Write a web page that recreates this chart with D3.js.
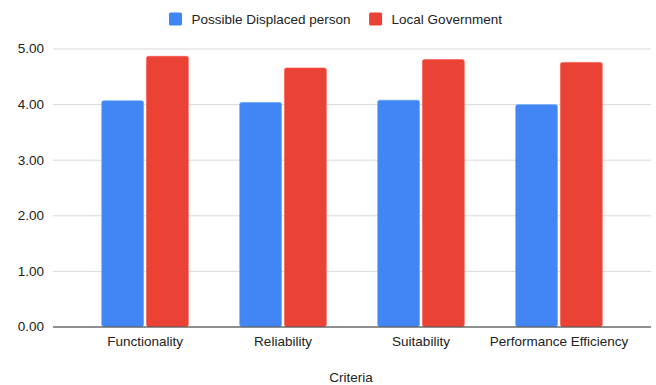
<!DOCTYPE html>
<html>
<head>
<meta charset="utf-8">
<script src="https://cdn.jsdelivr.net/npm/d3@7"></script>
<style>
  html, body { margin: 0; padding: 0; background: #fff; }
  text { font-family: "Liberation Sans", Arial, sans-serif; }
</style>
</head>
<body>
<svg id="chart" width="656" height="385"></svg>
<script>
// Mean scores by criterion for each respondent group
const categories = ["Functionality", "Reliability", "Suitability", "Performance Efficiency"];
const seriesNames = ["Possible Displaced person", "Local Government"];
const displacedValues = [4.06, 4.03, 4.07, 3.99];
const governmentValues = [4.86, 4.65, 4.80, 4.75];
const yTicks = [0, 1, 2, 3, 4, 5];
const colors = ["#4285F4", "#EA4335"];
const axisTitle = "Criteria";

const seriesValues = [displacedValues, governmentValues];
const rows = categories.map((c, i) => ({
  category: c,
  values: seriesNames.map((s, j) => ({ series: s, value: seriesValues[j][i] }))
}));

const svg = d3.select("#chart");
const plotLeft = 53, plotRight = 651, plotTop = 48.5, plotBottom = 326.5;
const fontSize = "13.5px";
const textColor = "#222";

const y = d3.scaleLinear().domain([0, 5]).range([plotBottom, plotTop]);
const x0 = d3.scaleBand().domain(categories).range([plotLeft, plotRight])
  .paddingInner(0.372).paddingOuter(0.353);
const x1 = d3.scaleBand().domain(seriesNames).range([0, x0.bandwidth()])
  .paddingInner(0.065);
const color = d3.scaleOrdinal().domain(seriesNames).range(colors);

// Horizontal gridlines and value labels
const yAxis = d3.axisLeft(y).tickValues(yTicks).tickFormat(d3.format(".2f"))
  .tickSize(-(plotRight - plotLeft)).tickPadding(9);
const gy = svg.append("g").attr("transform", `translate(${plotLeft},0)`).call(yAxis);
gy.select(".domain").remove();
gy.selectAll(".tick line").attr("stroke", "#d9d9d9").attr("stroke-width", 1);
gy.selectAll(".tick text").attr("fill", textColor).style("font-size", fontSize)
  .attr("font-family", "Liberation Sans, Arial, sans-serif");

// Bars
const groups = svg.append("g").selectAll("g").data(rows).join("g")
  .attr("transform", d => `translate(${x0(d.category)},0)`);
groups.selectAll("rect").data(d => d.values).join("rect")
  .attr("x", d => x1(d.series))
  .attr("y", d => y(d.value))
  .attr("width", x1.bandwidth())
  .attr("height", d => y(0) - y(d.value))
  .attr("rx", 2).attr("ry", 2)
  .attr("fill", d => color(d.series))
  .attr("stroke", d => d3.color(color(d.series)).brighter(0.6))
  .attr("stroke-width", 0.6);

// Baseline and category labels
const xAxis = d3.axisBottom(x0).tickSize(0).tickPadding(10);
const gx = svg.append("g").attr("transform", `translate(0,${plotBottom})`).call(xAxis);
gx.select(".domain").attr("stroke", "#333").attr("stroke-width", 1)
  .attr("d", `M${plotLeft},0.5H${plotRight}`);
gx.selectAll(".tick text").attr("fill", textColor).style("font-size", fontSize)
  .attr("font-family", "Liberation Sans, Arial, sans-serif");

// Axis title
svg.append("text").attr("x", 351).attr("y", 382)
  .attr("text-anchor", "middle").attr("fill", textColor)
  .style("font-size", fontSize).text(axisTitle);

// Legend
const legend = svg.append("g");
let lx = 169;
seriesNames.forEach((s, i) => {
  legend.append("rect").attr("x", lx).attr("y", 12.5).attr("width", 13).attr("height", 13)
    .attr("rx", 1.5).attr("fill", color(s));
  const t = legend.append("text").attr("x", lx + 22.5).attr("y", 24)
    .attr("fill", textColor).style("font-size", fontSize).text(s);
  lx += 22.5 + t.node().getComputedTextLength() + 18.5;
});
</script>
</body>
</html>
